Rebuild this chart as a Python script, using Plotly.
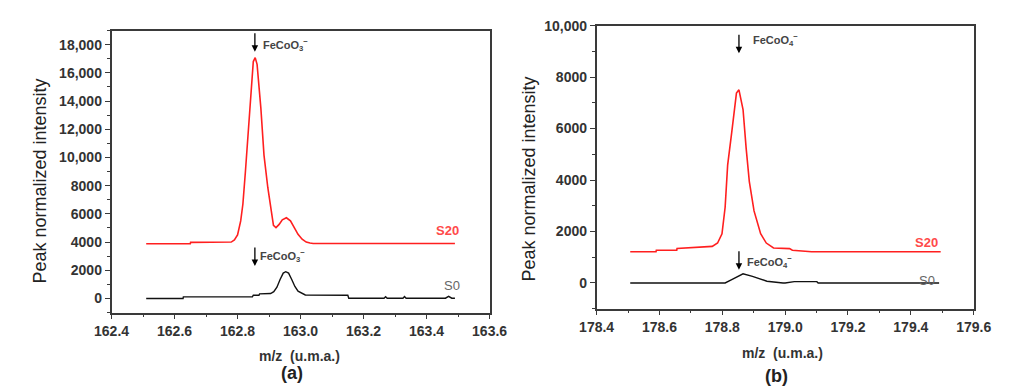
import plotly.graph_objects as go

# ---------------- data ----------------
# Panel (a): FeCoO3- region
a_s20_x = [162.51, 162.65, 162.651, 162.78, 162.79, 162.80, 162.81, 162.817, 162.825, 162.832,
           162.843, 162.850, 162.856, 162.862, 162.874, 162.884, 162.896, 162.904, 162.914,
           162.922, 162.932, 162.942, 162.955, 162.968, 162.98, 162.992, 163.005, 163.018,
           163.03, 163.04, 163.49]
a_s20_y = [3880, 3880, 3980, 4000, 4150, 4500, 5500, 6700, 9000, 11300,
           15000, 16800, 17080, 16600, 13500, 10150, 7870, 6700, 5190,
           5030, 5250, 5580, 5720, 5500, 5000, 4550, 4200, 4000,
           3930, 3900, 3900]

a_s0_x = [162.51, 162.627, 162.628, 162.847, 162.85, 162.868, 162.87, 162.905, 162.915, 162.925,
          162.935, 162.945, 162.953, 162.962, 162.972, 162.982, 162.992, 163.005, 163.015,
          163.15, 163.153, 163.265, 163.27, 163.275, 163.325, 163.33, 163.335, 163.46,
          163.47, 163.48, 163.49]
a_s0_y = [0, 0, 110, 110, 230, 230, 330, 350, 480, 800,
          1350, 1800, 1900, 1800, 1350, 850, 520, 350, 250,
          230, 20, 20, 130, 20, 20, 140, 20, 20,
          150, 20, 20]

# Panel (b): FeCoO4- region
b_s20_x = [178.507, 178.589, 178.59, 178.655, 178.656, 178.738, 178.768, 178.785, 178.799,
           178.809, 178.817, 178.830, 178.845, 178.853, 178.866, 178.876, 178.886, 178.901,
           178.922, 178.94, 178.963, 179.014, 179.023, 179.084, 179.495]
b_s20_y = [1210, 1210, 1270, 1270, 1336, 1400, 1420, 1550, 1910,
           2940, 4580, 5850, 7380, 7506, 6740, 5220, 3940, 2800,
           1910, 1550, 1360, 1335, 1270, 1210, 1210]

b_s0_x = [178.507, 178.809, 178.830, 178.850, 178.866, 178.896, 178.942, 178.993, 179.0,
          179.029, 179.101, 179.105, 179.49]
b_s0_y = [0, 0, 130, 255, 355, 255, 65, 0, 0,
          50, 50, 0, 0]

a_xticks = [162.4, 162.6, 162.8, 163.0, 163.2, 163.4, 163.6]
a_xlabels = ["162.4", "162.6", "162.8", "163.0", "163.2", "163.4", "163.6"]
a_yticks = [0, 2000, 4000, 6000, 8000, 10000, 12000, 14000, 16000, 18000]
a_ylabels = ["0", "2000", "4000", "6000", "8000", "10,000", "12,000", "14,000", "16,000", "18,000"]

b_xticks = [178.4, 178.6, 178.8, 179.0, 179.2, 179.4, 179.6]
b_xlabels = ["178.4", "178.6", "178.8", "179.0", "179.2", "179.4", "179.6"]
b_yticks = [0, 2000, 4000, 6000, 8000, 10000]
b_ylabels = ["0", "2000", "4000", "6000", "8000", "10,000"]

RED = "#ff1f1f"
BLACK = "#111111"
AX = "#3a3a3a"
FAM = "Liberation Sans, Arial, sans-serif"
TICKFONT = dict(family=FAM, size=14, color="#333333")

fig = go.Figure()
fig.add_trace(go.Scatter(x=a_s20_x, y=a_s20_y, mode="lines", line=dict(color=RED, width=1.6),
                         xaxis="x", yaxis="y", showlegend=False))
fig.add_trace(go.Scatter(x=a_s0_x, y=a_s0_y, mode="lines", line=dict(color=BLACK, width=1.4),
                         xaxis="x", yaxis="y", showlegend=False))
fig.add_trace(go.Scatter(x=b_s20_x, y=b_s20_y, mode="lines", line=dict(color=RED, width=1.6),
                         xaxis="x2", yaxis="y2", showlegend=False))
fig.add_trace(go.Scatter(x=b_s0_x, y=b_s0_y, mode="lines", line=dict(color=BLACK, width=1.4),
                         xaxis="x2", yaxis="y2", showlegend=False))

def bold(labels):
    return ["<b>%s</b>" % s for s in labels]

def xax(domain, rng, tv, tt, anchor):
    return dict(domain=domain, range=rng, tickvals=tv, ticktext=bold(tt), anchor=anchor,
                showline=True, linecolor=AX, linewidth=1.6, mirror=True,
                ticks="outside", ticklen=5, tickwidth=1.4, tickcolor=AX,
                minor=dict(dtick=0.1, tick0=rng[0], ticks="outside", ticklen=3, tickcolor=AX, showgrid=False),
                showgrid=False, zeroline=False, tickfont=TICKFONT)

def yax(domain, rng, tv, tt, anchor):
    return dict(domain=domain, range=rng, tickvals=tv, ticktext=bold(tt), anchor=anchor,
                showline=True, linecolor=AX, linewidth=1.6, mirror=True,
                ticks="outside", ticklen=5, tickwidth=1.4, tickcolor=AX,
                minor=dict(dtick=1000, tick0=0, ticks="outside", ticklen=3, tickcolor=AX, showgrid=False),
                showgrid=False, zeroline=False, tickfont=TICKFONT)

W, H = 1010, 387
fig.update_layout(
    width=W, height=H, margin=dict(l=0, r=0, t=0, b=0),
    paper_bgcolor="white", plot_bgcolor="white",
    xaxis=xax([97 / W, 489 / W], [162.4, 163.6], a_xticks, a_xlabels, "y"),
    yaxis=yax([(H - 311) / H, (H - 23) / H], [-1000, 19000], a_yticks, a_ylabels, "x"),
    xaxis2=xax([600 / W, 991 / W], [178.4, 179.6], b_xticks, b_xlabels, "y2"),
    yaxis2=yax([(H - 307) / H, (H - 18) / H], [-1000, 10000], b_yticks, b_ylabels, "x2"),
)

ann = []
# arrows
for xr, yr, x, y in [("x", "y", 162.855, 17500), ("x", "y", 162.855, 2300),
                     ("x2", "y2", 178.853, 8930), ("x2", "y2", 178.853, 510)]:
    ann.append(dict(xref=xr, yref=yr, x=x, y=y, ax=0, ay=-20, text="", showarrow=True,
                    arrowhead=2, arrowsize=1, arrowwidth=1.3, arrowcolor="#000000", standoff=0))

SMALL = dict(family=FAM, size=11, color="#444444")
ann += [
    dict(xref="x", yref="y", x=162.876, y=18000, text="<b>FeCoO<sub>3</sub><sup>−</sup></b>",
         showarrow=False, xanchor="left", yanchor="middle", font=SMALL),
    dict(xref="x", yref="y", x=162.866, y=3030, text="<b>FeCoO<sub>3</sub><sup>−</sup></b>",
         showarrow=False, xanchor="left", yanchor="middle", font=SMALL),
    dict(xref="x2", yref="y2", x=178.89, y=9430, text="<b>FeCoO<sub>4</sub><sup>−</sup></b>",
         showarrow=False, xanchor="left", yanchor="middle", font=SMALL),
    dict(xref="x2", yref="y2", x=178.872, y=800, text="<b>FeCoO<sub>4</sub><sup>−</sup></b>",
         showarrow=False, xanchor="left", yanchor="middle", font=SMALL),
    dict(xref="x", yref="y", x=163.465, y=4830, text="<b>S20</b>", showarrow=False,
         font=dict(family=FAM, size=13, color="#ff4a4a")),
    dict(xref="x", yref="y", x=163.48, y=950, text="S0", showarrow=False,
         font=dict(family=FAM, size=13, color="#666666")),
    dict(xref="x2", yref="y2", x=179.45, y=1565, text="<b>S20</b>", showarrow=False,
         font=dict(family=FAM, size=13, color="#ff4a4a")),
    dict(xref="x2", yref="y2", x=179.453, y=80, text="S0", showarrow=False,
         font=dict(family=FAM, size=13, color="#666666")),
]

TITLEF = dict(family=FAM, size=14, color="#333333")
YTF = dict(family=FAM, size=18, color="#222222")
PANF = dict(family=FAM, size=18, color="#222222")
def px(xp, yp):
    return xp / W, 1 - yp / H
for xp, yp, t, f in [(292, 355, "<b>m/z  (u.m.a.)</b>", TITLEF), (793, 352, "<b>m/z  (u.m.a.)</b>", TITLEF),
                     (284, 373, "<b>(a)</b>", PANF), (787, 376, "<b>(b)</b>", PANF)]:
    x, y = px(xp, yp)
    ann.append(dict(xref="paper", yref="paper", x=x, y=y, text=t, showarrow=False,
                    xanchor="center", yanchor="middle", font=f))
for xp, yp in [(23, 177), (530, 175)]:
    x, y = px(xp, yp)
    ann.append(dict(xref="paper", yref="paper", x=x, y=y, text="Peak normalized intensity",
                    showarrow=False, textangle=-90, xanchor="center", yanchor="middle", font=YTF))

fig.update_layout(annotations=ann)
fig.write_html("out.html")
